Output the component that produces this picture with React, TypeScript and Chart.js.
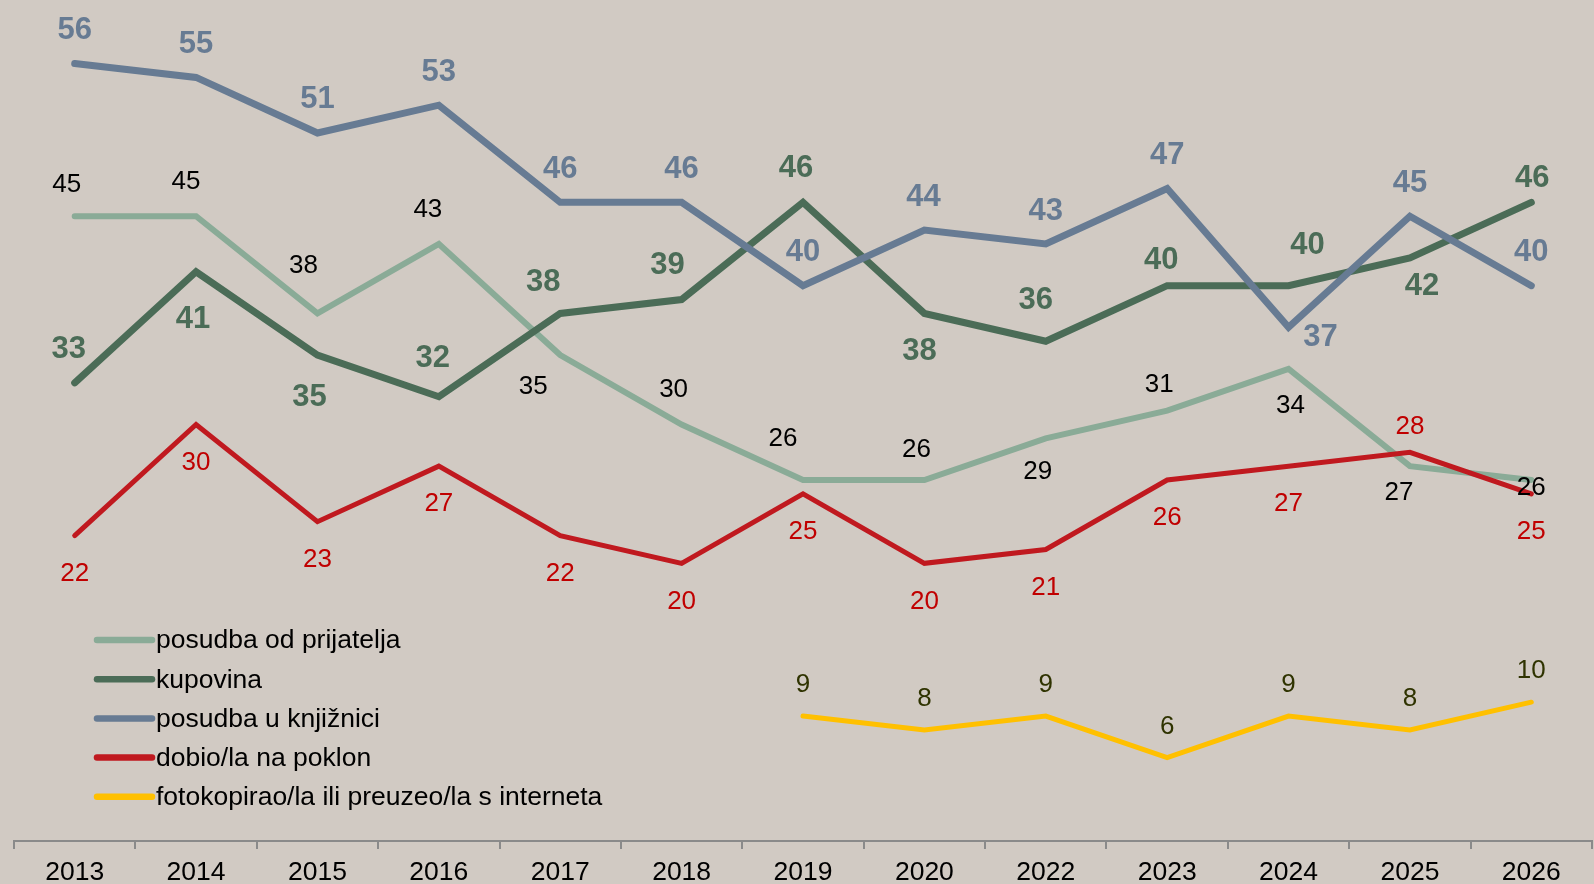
import React, { useEffect, useRef } from "react";
import { Chart, registerables } from "chart.js";

Chart.register(...registerables);

const FONT = "'Liberation Sans', Arial, Helvetica, sans-serif";
const BG = "#d1cac3";

const categories = ["2013", "2014", "2015", "2016", "2017", "2018", "2019", "2020", "2022", "2023", "2024", "2025", "2026"];

const prijatelja = [45, 45, 38, 43, 35, 30, 26, 26, 29, 31, 34, 27, 26];
const kupovina = [33, 41, 35, 32, 38, 39, 46, 38, 36, 40, 40, 42, 46];
const knjiznica = [56, 55, 51, 53, 46, 46, 40, 44, 43, 47, 37, 45, 40];
const poklon = [22, 30, 23, 27, 22, 20, 25, 20, 21, 26, 27, 28, 25];
const internet = [null, null, null, null, null, null, 9, 8, 9, 6, 9, 8, 10];

const seriesNames = [
  "posudba od prijatelja",
  "kupovina",
  "posudba u knjižnici",
  "dobio/la na poklon",
  "fotokopirao/la ili preuzeo/la s interneta",
];

// label placement offsets (pixels) relative to each point
const offPrijatelja = [[-8, -33], [-10, -36], [-14, -50], [-11, -36], [-27, 30], [-8, -37], [-20, -43], [-8, -32], [-8, 31], [-8, -28], [2, 35], [-11, 25], [0, 6]];
const offKupovina = [[-6, -36], [-3, 45], [-8, 39], [-6, -41], [-17, -34], [-14, -37], [-7, -37], [-5, 35], [-10, -44], [-6, -28], [19, -43], [12, 26], [1, -27]];
const offKnjiznica = [[0, -36], [0, -36], [0, -36], [0, -36], [0, -36], [0, -36], [0, -36], [-1, -36], [0, -36], [0, -36], [32, 7], [0, -36], [0, -36]];
const offPoklon = [[0, 36], [0, 36], [0, 36], [0, 36], [0, 36], [0, 36], [0, 36], [0, 36], [0, 36], [0, 36], [0, 36], [0, -27], [0, 36]];
const offInternet = [[0, -33], [0, -33], [0, -33], [0, -33], [0, -33], [0, -33], [0, -33], [0, -33], [0, -33], [0, -33], [0, -33], [0, -33], [0, -33]];

const labelStyles = [
  { color: "#000000", weight: "normal", size: 26, off: offPrijatelja, shift: 2 },
  { color: "#4b6c57", weight: "bold", size: 31, off: offKupovina, shift: 3 },
  { color: "#677b93", weight: "bold", size: 31, off: offKnjiznica, shift: 3 },
  { color: "#c00000", weight: "normal", size: 26, off: offPoklon, shift: 2 },
  { color: "#2f3300", weight: "normal", size: 26, off: offInternet, shift: 2 },
];

const lineColors = ["#8aab97", "#4b6c57", "#677b93", "#c0191f", "#ffc000"];
const lineWidths = [6, 7, 7, 5, 5];
const drawOrder = [4, 3, 2, 0, 1];

const dataLabelPlugin = {
  id: "dataLabelsCustom",
  afterDatasetsDraw(chart: any) {
    const ctx = chart.ctx;
    ctx.save();
    chart.data.datasets.forEach((ds: any, di: number) => {
      const st = labelStyles[di];
      const meta = chart.getDatasetMeta(di);
      ctx.font = `${st.weight} ${st.size}px ${FONT}`;
      ctx.fillStyle = st.color;
      ctx.textAlign = "center";
      ctx.textBaseline = "middle";
      meta.data.forEach((pt: any, i: number) => {
        const v = ds.data[i];
        if (v === null || v === undefined) return;
        const o = st.off[i];
        ctx.fillText(String(v), pt.x + o[0], pt.y + o[1] + st.shift);
      });
    });
    ctx.restore();
  },
};

const legendPlugin = {
  id: "legendCustom",
  afterDraw(chart: any) {
    const ctx = chart.ctx;
    ctx.save();
    const x0 = 97;
    const x1 = 152;
    const tx = 156;
    const y0 = 640;
    const step = 39.2;
    chart.data.datasets.forEach((ds: any, di: number) => {
      const y = y0 + di * step;
      ctx.strokeStyle = ds.borderColor;
      ctx.lineWidth = 6.5;
      ctx.lineCap = "round";
      ctx.beginPath();
      ctx.moveTo(x0, y);
      ctx.lineTo(x1, y);
      ctx.stroke();
      ctx.fillStyle = "#000000";
      ctx.font = `normal 26.5px ${FONT}`;
      ctx.textAlign = "left";
      ctx.textBaseline = "middle";
      ctx.fillText(ds.label, tx, y + 1);
    });
    ctx.restore();
  },
};

export default function App() {
  const ref = useRef<HTMLCanvasElement | null>(null);

  useEffect(() => {
    if (!ref.current) return;
    const seriesData = [prijatelja, kupovina, knjiznica, poklon, internet];
    const chart = new Chart(ref.current, {
      type: "line",
      data: {
        labels: categories,
        datasets: seriesData.map((d, i) => ({
          label: seriesNames[i],
          data: d as any,
          borderColor: lineColors[i],
          backgroundColor: lineColors[i],
          borderWidth: lineWidths[i],
          pointRadius: 0,
          tension: 0,
          fill: false,
          spanGaps: false,
          order: drawOrder[i],
          borderJoinStyle: "miter" as const,
          borderCapStyle: "round" as const,
        })),
      },
      options: {
        animation: false,
        responsive: true,
        maintainAspectRatio: false,
        layout: { padding: { left: 14, top: 8, right: 2, bottom: 0 } },
        plugins: {
          legend: { display: false },
          tooltip: { enabled: false },
        },
        scales: {
          x: {
            offset: true,
            grid: {
              offset: true,
              drawOnChartArea: false,
              drawTicks: true,
              tickLength: 8,
              color: "#8a8a8a",
              lineWidth: 2,
            },
            border: { display: true, color: "#8a8a8a", width: 2 },
            ticks: {
              color: "#000000",
              font: { size: 26.5, family: FONT },
              padding: 8,
              maxRotation: 0,
              autoSkip: false,
            },
            afterFit: (s: any) => {
              s.height = 43;
            },
          },
          y: { display: false, min: 0, max: 60 },
        },
      },
      plugins: [dataLabelPlugin, legendPlugin],
    });
    return () => chart.destroy();
  }, []);

  return (
    <div
      style={{
        position: "fixed",
        left: 0,
        top: 0,
        width: 1594,
        height: 884,
        background: BG,
      }}
    >
      <canvas ref={ref} />
    </div>
  );
}
